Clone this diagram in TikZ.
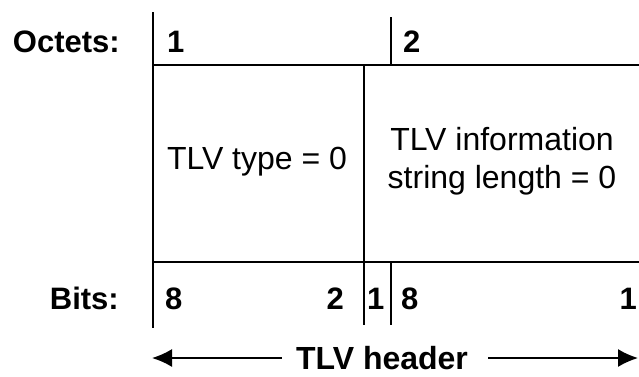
\documentclass[tikz,border=0pt]{standalone}
\usepackage{fontspec}
\setmainfont{Liberation Sans}
\usetikzlibrary{arrows.meta,positioning}

\begin{document}
\begin{tikzpicture}[x=1pt,y=-1pt,>={Latex[length=20pt,width=18pt]},font=\fontsize{32}{38}\selectfont]
    \tikzset{
        rule/.style={line width=1.7pt},
        rowLabel/.style={font=\fontsize{31}{38}\selectfont\bfseries,anchor=base east,inner sep=0pt},
        bitNum/.style={font=\fontsize{31}{38}\selectfont\bfseries,anchor=base west,inner sep=0pt},
        field/.style={align=center,inner sep=0pt}
    }
    \useasboundingbox (0,0) rectangle (639,376);
    % Frame
    \draw[rule] (153,12) -- (153,328);
    \draw[rule] (391,17) -- (391,65);
    \draw[rule] (153,65) -- (639,65);
    \draw[rule] (364,65) -- (364,325);
    \draw[rule] (153,262) -- (639,262);
    \draw[rule] (391,262) -- (391,325);
    % Octets
    \node[rowLabel] (octets) at (120,52) {Octets:};
    \node[bitNum] (oct1) at (167,52) {1};
    \node[bitNum] (oct2) at (403,52) {2};
    % Fields
    \node[field] (tlvtype) at (257,162) {TLV type = 0};
    \node[field] (tlvlen) at (502,161) {TLV information\\string length = 0};
    % Bits
    \node[rowLabel] (bits) at (119,309) {Bits:};
    \node[bitNum] (bitA) at (165,309) {8};
    \node[bitNum,anchor=base east] (bitB) at (344,309) {2};
    \node[bitNum] (bitC) at (367,309) {1};
    \node[bitNum] (bitD) at (401,309) {8};
    \node[bitNum,anchor=base east] (bitE) at (637,309) {1};
    % Header span
    \node[font=\fontsize{32}{38}\selectfont\bfseries,anchor=base,inner sep=0pt] (hdr) at (382,369) {TLV header};
    \coordinate (hdrL) at (152,358);
    \coordinate (hdrR) at (638,358);
    \draw[rule,->] ([xshift=-14pt]hdr.west |- hdrL) -- (hdrL);
    \draw[rule,->] ([xshift=20pt]hdr.east |- hdrR) -- (hdrR);
\end{tikzpicture}
\end{document}
